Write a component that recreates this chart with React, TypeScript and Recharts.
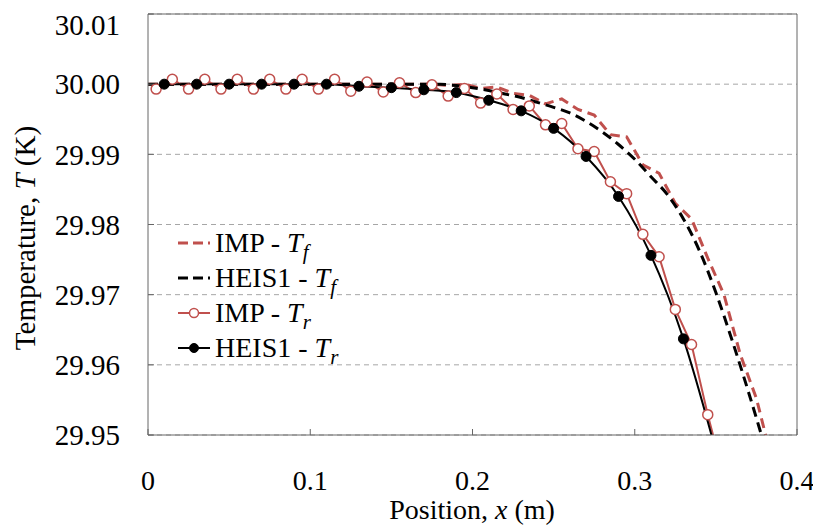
import React from 'react';
import { LineChart, Line, XAxis, YAxis, CartesianGrid, ReferenceLine, Label } from 'recharts';

const RED = '#C0504D';
const FONT = '"Liberation Serif", "Times New Roman", serif';

// IMP - T_r (open red circles)
const impTrX = [
    0.005, 0.015, 0.025, 0.035, 0.045, 0.055, 0.065, 0.075, 0.085, 0.095,
    0.105, 0.115, 0.125, 0.135, 0.145, 0.155, 0.165, 0.175, 0.185, 0.195,
    0.205, 0.215, 0.225, 0.235, 0.245, 0.255, 0.265, 0.275, 0.285, 0.295,
    0.305, 0.315, 0.325, 0.335, 0.345, 0.355
];
const impTrT = [
    29.9993, 30.0007, 29.9993, 30.0007, 29.9993, 30.0007, 29.9993, 30.0007, 29.9993, 30.0007,
    29.9993, 30.0007, 29.999, 30.0003, 29.9989, 30.0002, 29.9988, 29.9999, 29.9983, 29.9994,
    29.9973, 29.9986, 29.9964, 29.9969, 29.9942, 29.9944, 29.9908, 29.9904, 29.9861, 29.9844,
    29.9786, 29.9754, 29.9679, 29.9629, 29.9529, 29.944
];

// HEIS1 - T_r (filled black circles)
const heisTrX = [0.01, 0.03, 0.05, 0.07, 0.09, 0.11, 0.13, 0.15, 0.17, 0.19, 0.21, 0.23, 0.25, 0.27, 0.29, 0.31, 0.33, 0.35];
const heisTrT = [30.0, 30.0, 30.0, 30.0, 30.0, 30.0, 29.9997, 29.9995, 29.9992, 29.9988, 29.9977, 29.9962, 29.9937, 29.9897, 29.984, 29.9756, 29.9637, 29.9477];

// IMP - T_f (red dashed)
const impTfX = [0, 0.175, 0.185, 0.195, 0.205, 0.215, 0.225, 0.235, 0.245, 0.255, 0.265, 0.275, 0.285, 0.295, 0.305, 0.315, 0.325, 0.335, 0.345, 0.355, 0.365, 0.375, 0.385];
const impTfT = [30.0, 30.0, 29.9998, 30.0, 29.9994, 29.9996, 29.9987, 29.9984, 29.9972, 29.9979, 29.9964, 29.9956, 29.9928, 29.9925, 29.9885, 29.9873, 29.983, 29.9808, 29.9752, 29.97, 29.9615, 29.9552, 29.946];

// HEIS1 - T_f (black dashed)
const heisTfX = [0, 0.18, 0.19, 0.2, 0.21, 0.22, 0.23, 0.24, 0.25, 0.26, 0.27, 0.28, 0.29, 0.3, 0.31, 0.32, 0.33, 0.34, 0.35, 0.36, 0.37, 0.38];
const heisTfT = [30.0, 30.0, 29.9998, 29.9995, 29.9991, 29.9986, 29.9981, 29.9974, 29.9967, 29.9959, 29.9947, 29.9932, 29.9914, 29.9893, 29.9868, 29.9843, 29.9808, 29.9762, 29.9703, 29.9635, 29.9562, 29.9485];

const xTicks = [0, 0.1, 0.2, 0.3, 0.4];
const yTicks = [29.95, 29.96, 29.97, 29.98, 29.99, 30.0, 30.01];

const toPoints = (xs: number[], ts: number[]) => xs.map((x, i) => ({ x, t: ts[i] }));

const impTr = toPoints(impTrX, impTrT);
const heisTr = toPoints(heisTrX, heisTrT);
const impTf = toPoints(impTfX, impTfT);
const heisTf = toPoints(heisTfX, heisTfT);

const legendItems = [
    { name: 'IMP', sub: 'f', color: RED, dashed: true, dot: 'none' },
    { name: 'HEIS1', sub: 'f', color: '#000', dashed: true, dot: 'none' },
    { name: 'IMP', sub: 'r', color: RED, dashed: false, dot: 'open' },
    { name: 'HEIS1', sub: 'r', color: '#000', dashed: false, dot: 'filled' },
];

const LegendBox = () => (
    <div style={{ position: 'absolute', left: 170, top: 217, fontFamily: FONT, fontSize: 28 }}>
        {legendItems.map((item, i) => (
            <div key={i} style={{ display: 'flex', alignItems: 'center', height: 35 }}>
                <svg width={34} height={14} style={{ marginRight: 3 }}>
                    <line x1={0} y1={7} x2={32} y2={7} stroke={item.color}
                        strokeWidth={item.dashed ? 3 : 2} strokeDasharray={item.dashed ? '10 5' : undefined} />
                    {item.dot === 'open' && <circle cx={16} cy={7} r={4.5} fill="#fff" stroke={item.color} strokeWidth={1.5} />}
                    {item.dot === 'filled' && <circle cx={16} cy={7} r={4.5} fill="#000" stroke="#000" />}
                </svg>
                <span style={{ whiteSpace: 'nowrap', lineHeight: '35px' }}>
                    {item.name} - <i>T</i><sub style={{ fontStyle: 'italic', fontSize: 21, lineHeight: 0 }}>{item.sub}</sub>
                </span>
            </div>
        ))}
    </div>
);

const App = () => {
    return (
        <div style={{ position: 'relative', width: 813, height: 518, fontFamily: FONT }}>
            <LineChart width={813} height={518} margin={{ top: 6, right: 24, bottom: 0, left: 0 }}>
                <CartesianGrid vertical={false} stroke="#a6a6a6" strokeDasharray="5 4" />
                <XAxis
                    type="number"
                    dataKey="x"
                    domain={[0, 0.4]}
                    ticks={xTicks}
                    allowDataOverflow
                    height={91}
                    stroke="#666"
                    tickSize={-6}
                    tickMargin={41}
                    tick={{ fill: '#000', fontSize: 28, fontFamily: FONT }}
                    tickFormatter={(v: number) => String(v)}
                >
                    <Label
                        content={() => (
                            <text x={464} y={501} textAnchor="middle" dominantBaseline="central"
                                fontSize={28} fontFamily={FONT} fill="#000">
                                Position, <tspan fontStyle="italic">x</tspan> (m)
                            </text>
                        )}
                    />
                </XAxis>
                <YAxis
                    type="number"
                    domain={[29.95, 30.01]}
                    ticks={yTicks}
                    allowDataOverflow
                    width={140}
                    stroke="#666"
                    tickSize={-6}
                    tickMargin={34}
                    tick={{ fill: '#000', fontSize: 29, fontFamily: FONT }}
                    tickFormatter={(v: number) => v.toFixed(2)}
                >
                    <Label
                        content={() => (
                            <text x={17} y={230} textAnchor="middle" dominantBaseline="central"
                                transform="rotate(-90, 17, 230)" fontSize={29} fontFamily={FONT} fill="#000">
                                Temperature, <tspan fontStyle="italic">T</tspan> (K)
                            </text>
                        )}
                    />
                </YAxis>
                <ReferenceLine y={30.01} stroke="#666" />
                <ReferenceLine x={0.4} stroke="#666" />
                <Line data={impTf} dataKey="t" type="linear" stroke={RED} strokeWidth={3}
                    strokeDasharray="10 6" dot={false} isAnimationActive={false} />
                <Line data={heisTf} dataKey="t" type="monotone" stroke="#000" strokeWidth={3}
                    strokeDasharray="10 6" dot={false} isAnimationActive={false} />
                <Line data={impTr} dataKey="t" type="linear" stroke={RED} strokeWidth={2}
                    dot={{ r: 5, fill: '#fff', stroke: RED, strokeWidth: 1.5 }} isAnimationActive={false} />
                <Line data={heisTr} dataKey="t" type="monotone" stroke="#000" strokeWidth={2}
                    dot={{ r: 5, fill: '#000', stroke: '#000', strokeWidth: 1 }} isAnimationActive={false} />
            </LineChart>
            <LegendBox />
        </div>
    );
};

export default App;
